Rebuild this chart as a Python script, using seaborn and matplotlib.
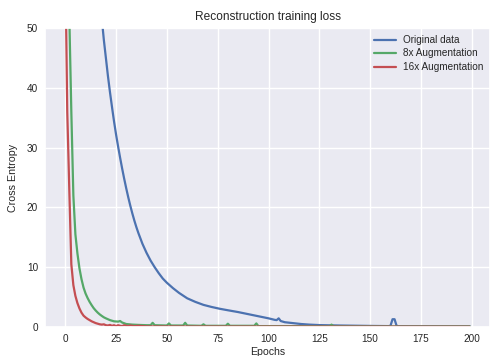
import matplotlib
matplotlib.use("Agg")
import matplotlib.pyplot as plt
import seaborn as sns
import pandas as pd

# ---- data ----
series_names = ["Original data", "8x Augmentation", "16x Augmentation"]
colors = ["#4C72B0", "#55A868", "#C44E52"]

orig_epochs = [0, 5, 10, 15, 18, 19, 20, 21, 22, 23, 24, 25, 26, 27, 28, 29, 30, 31, 32,
               33, 34, 35, 36, 38, 40, 42, 44, 46, 48, 50, 53, 56, 60, 64, 68, 72, 76,
               80, 85, 90, 95, 100, 103, 104, 105, 106, 108, 112, 116, 120, 125, 135,
               150, 159, 160, 161, 162, 163, 164, 175, 190, 199]
orig_loss = [250, 150, 95, 63, 51.5, 48, 45, 42, 39.3, 36.8, 34.4, 32.2, 30.2, 28.3,
             26.5, 24.8, 23.2, 21.7, 20.3, 19.0, 17.8, 16.7, 15.7, 13.9, 12.4, 11.1,
             10.0, 9.0, 8.1, 7.4, 6.5, 5.7, 4.8, 4.2, 3.7, 3.35, 3.05, 2.8, 2.5, 2.15,
             1.8, 1.45, 1.2, 1.15, 1.45, 1.0, 0.8, 0.65, 0.5, 0.4, 0.32, 0.25, 0.18,
             0.15, 0.2, 1.3, 1.3, 0.2, 0.13, 0.12, 0.1, 0.1]

aug8_epochs = [0, 1, 2, 3, 4, 5, 6, 7, 8, 9, 10, 11, 12, 13, 14, 15, 16, 17, 18, 19, 20,
               22, 24, 26, 27, 28, 30, 33, 36, 40, 42, 43, 44, 50, 51, 52, 58, 59, 60,
               67, 68, 69, 79, 80, 81, 93, 94, 95, 110, 130, 131, 132, 160, 199]
aug8_loss = [150, 90, 52, 36, 22, 15.5, 12.3, 9.8, 8.0, 6.6, 5.6, 4.85, 4.2, 3.65, 3.15,
             2.75, 2.4, 2.1, 1.85, 1.62, 1.45, 1.15, 0.95, 0.9, 1.0, 0.75, 0.5, 0.4,
             0.35, 0.3, 0.3, 0.7, 0.3, 0.25, 0.6, 0.25, 0.25, 0.7, 0.25, 0.2, 0.45, 0.2,
             0.2, 0.55, 0.2, 0.2, 0.6, 0.15, 0.15, 0.12, 0.4, 0.12, 0.1, 0.1]

aug16_epochs = [0, 1, 2, 3, 4, 5, 6, 7, 8, 9, 10, 11, 12, 13, 14, 15, 16, 17, 18, 19,
                20, 21, 22, 23, 24, 25, 26, 27, 28, 29, 30, 31, 32, 34, 36, 40, 60, 199]
aug16_loss = [62, 36, 23, 10.5, 7.0, 5.2, 4.0, 3.1, 2.4, 1.9, 1.6, 1.35, 1.15, 0.95,
              0.8, 0.65, 0.55, 0.45, 0.4, 0.45, 0.3, 0.25, 0.35, 0.2, 0.3, 0.15, 0.3,
              0.2, 0.15, 0.3, 0.2, 0.15, 0.25, 0.15, 0.2, 0.1, 0.08, 0.05]

x_ticks = [0, 25, 50, 75, 100, 125, 150, 175, 200]
y_ticks = [0, 10, 20, 30, 40, 50]

df = pd.concat([
    pd.DataFrame({"Epochs": orig_epochs, "loss": orig_loss, "series": series_names[0]}),
    pd.DataFrame({"Epochs": aug8_epochs, "loss": aug8_loss, "series": series_names[1]}),
    pd.DataFrame({"Epochs": aug16_epochs, "loss": aug16_loss, "series": series_names[2]}),
], ignore_index=True)

sns.set_theme(style="darkgrid", rc={"axes.facecolor": "#EAEAF2",
                                    "grid.color": "white"})
plt.rcParams["font.family"] = ["Liberation Sans", "DejaVu Sans"]

fig = plt.figure(figsize=(4.9, 3.56), dpi=100)
ax = fig.add_axes([45 / 490, 1 - 327 / 356, 445 / 490, (327 - 28) / 356])

sns.lineplot(data=df, x="Epochs", y="loss", hue="series", hue_order=series_names,
             palette=colors, linewidth=1.6, ax=ax, sort=True, estimator=None)

ax.set_xlim(-9.95, 208.95)
ax.set_ylim(0, 50)
ax.set_xticks(x_ticks)
ax.set_yticks(y_ticks)
ax.tick_params(labelsize=7.2, colors="#262626", length=0, pad=5)
ax.set_xlabel("Epochs", fontsize=7.6, color="#262626", labelpad=2.5)
ax.set_ylabel("Cross Entropy", fontsize=7.7, color="#262626", labelpad=6)
ax.set_title("Reconstruction training loss", fontsize=8.6, color="#262626", pad=6)

handles, labels = ax.get_legend_handles_labels()
ax.legend(handles, labels, loc="upper right", frameon=False, fontsize=7.2,
          handlelength=2.17, handletextpad=0.67, borderaxespad=0.3, borderpad=0.4,
          labelspacing=0.35, bbox_to_anchor=(1.0, 1.0))

fig.savefig("out.png", dpi=100)
